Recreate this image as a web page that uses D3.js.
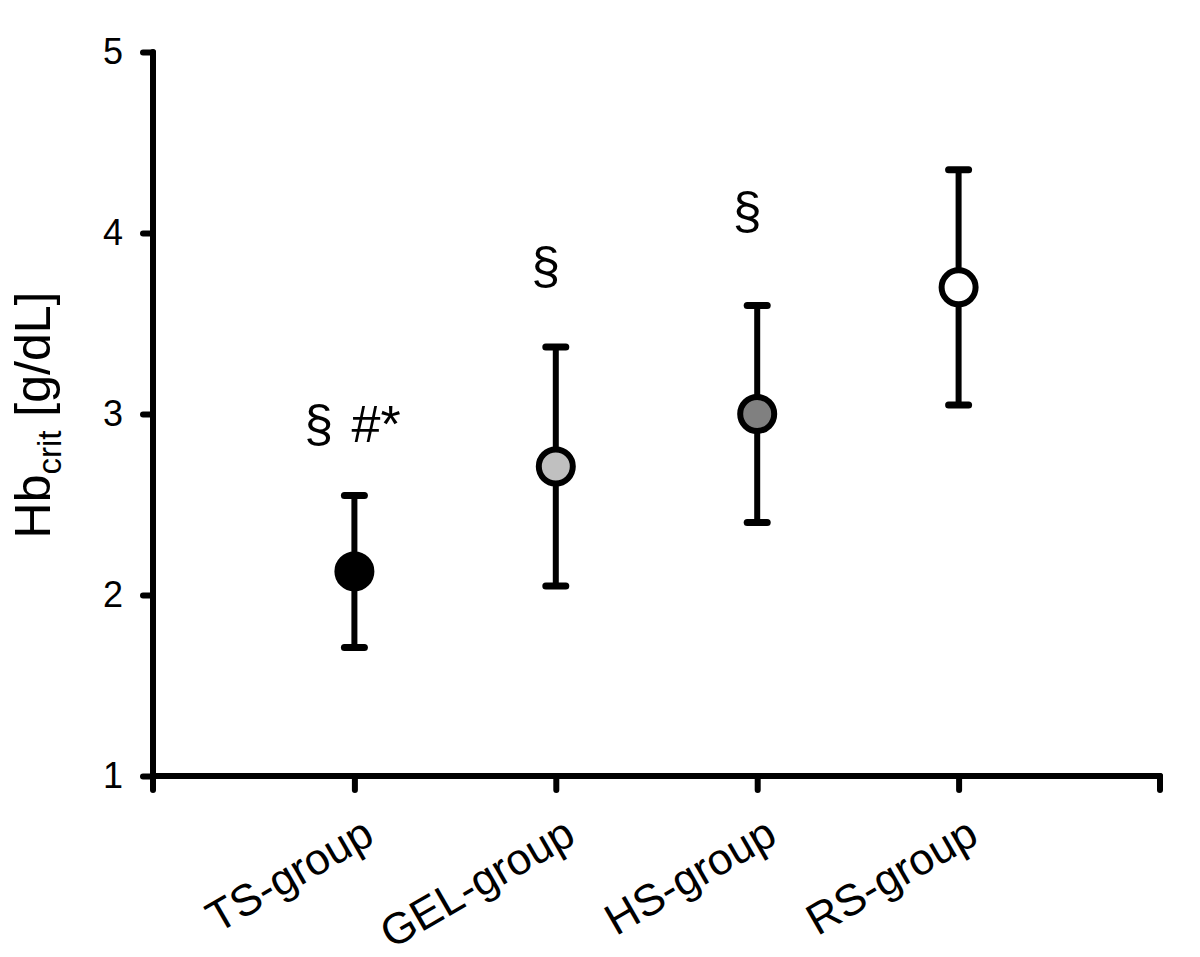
<!DOCTYPE html>
<html><head><meta charset="utf-8">
<script src="https://cdn.jsdelivr.net/npm/d3@7"></script>
<style>
html,body{margin:0;padding:0;background:#fff;}
text{font-family:"Liberation Sans",Arial,sans-serif;fill:#000;}
</style></head>
<body>
<svg id="chart" width="1200" height="957"></svg>
<script>
const categories = ["TS-group", "GEL-group", "HS-group", "RS-group"];
const means = [2.13, 2.71, 3.00, 3.70];
const lower = [1.71, 2.05, 2.40, 3.05];
const upper = [2.55, 3.37, 3.60, 4.35];
const fills = ["#000000", "#c0c0c0", "#808080", "#ffffff"];
const annotations = ["§ #*", "§", "§", ""];
const annotationY = [2.845, 3.72, 4.02, 0];
const yTicks = [1, 2, 3, 4, 5];

const svg = d3.select("#chart");
const x = d3.scalePoint().domain(categories).range([153, 1160]).padding(1);
const y = d3.scaleLinear().domain([1, 5]).range([776, 52]);
const SW = 6;

// axes
const yAxis = svg.append("g").attr("transform", "translate(153,0)")
  .call(d3.axisLeft(y).tickValues(yTicks).tickSize(10).tickPadding(20).tickFormat(d3.format("d")));
const xAxis = svg.append("g").attr("transform", "translate(0,776)")
  .call(d3.axisBottom(x).tickSize(14).tickFormat(""));
[153, 1160].forEach(px => {
  xAxis.append("line").attr("x1", px).attr("x2", px).attr("y1", 0).attr("y2", 14);
});
[yAxis, xAxis].forEach(g => {
  g.select(".domain").remove();
  g.selectAll("line").attr("stroke", "#000").attr("stroke-width", SW).attr("stroke-linecap", "round");
});
yAxis.selectAll("text").style("font-size", "36px").attr("fill", "#000");
svg.append("line").attr("x1", 153).attr("x2", 153).attr("y1", y(5)).attr("y2", y(1))
  .attr("stroke", "#000").attr("stroke-width", SW).attr("stroke-linecap", "round");
svg.append("line").attr("x1", 153).attr("x2", 1160).attr("y1", y(1)).attr("y2", y(1))
  .attr("stroke", "#000").attr("stroke-width", SW).attr("stroke-linecap", "round");

// x labels
svg.append("g").selectAll("text").data(categories).join("text")
  .attr("transform", d => `translate(${x(d) + 22},${842}) rotate(-30)`)
  .attr("text-anchor", "end")
  .style("font-size", "44px")
  .text(d => d);

// y label
const yl = svg.append("text")
  .attr("transform", "translate(50,415) rotate(-90)")
  .attr("text-anchor", "middle")
  .style("font-size", "50px");
yl.append("tspan").text("Hb");
yl.append("tspan").attr("dy", 11).style("font-size", "33px").text("crit");
yl.append("tspan").attr("dy", -11).text(" [g/dL]");

// error bars
const idx = d3.range(categories.length);
const g = svg.append("g");
g.selectAll("line.v").data(idx).join("line").attr("class", "v")
  .attr("x1", i => x(categories[i])).attr("x2", i => x(categories[i]))
  .attr("y1", i => y(lower[i])).attr("y2", i => y(upper[i]))
  .attr("stroke", "#000").attr("stroke-width", SW);
[lower, upper].forEach(arr => {
  g.append("g").selectAll("line").data(idx).join("line")
    .attr("x1", i => x(categories[i]) - 10).attr("x2", i => x(categories[i]) + 10)
    .attr("y1", i => y(arr[i])).attr("y2", i => y(arr[i]))
    .attr("stroke", "#000").attr("stroke-width", 7).attr("stroke-linecap", "round");
});
g.selectAll("circle").data(idx).join("circle")
  .attr("cx", i => x(categories[i])).attr("cy", i => y(means[i]))
  .attr("r", 17)
  .attr("fill", i => fills[i]).attr("stroke", "#000").attr("stroke-width", 6);

// annotations
svg.append("g").selectAll("text").data(idx.filter(i => annotations[i])).join("text")
  .attr("x", i => x(categories[i]) - (i === 0 ? 2 : 10))
  .attr("y", i => y(annotationY[i]))
  .attr("text-anchor", "middle")
  .style("font-size", "52px")
  .style("word-spacing", "4px")
  .text(i => annotations[i]);
</script>
</body></html>
